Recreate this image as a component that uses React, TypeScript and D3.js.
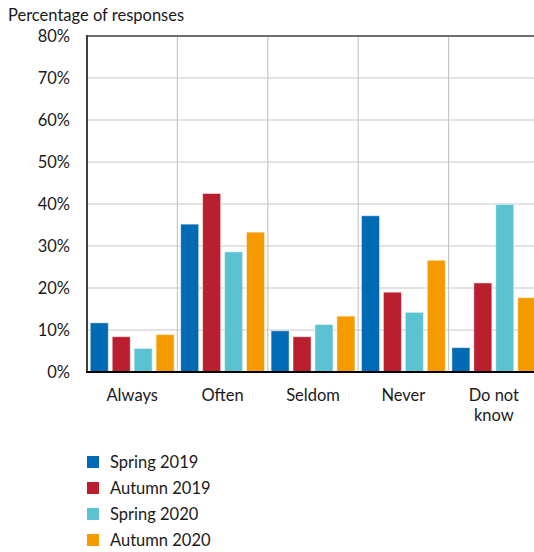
import React from 'react';
import * as d3 from 'd3';

const categories = ['Always', 'Often', 'Seldom', 'Never', 'Do not know'];
const seriesNames = ['Spring 2019', 'Autumn 2019', 'Spring 2020', 'Autumn 2020'];
const seriesColors = ['#006ab4', '#b91f2e', '#5bc2d1', '#f59b00'];
// values in percent, one array per series, same order as categories
const spring2019 = [11.7, 35.2, 9.8, 37.2, 5.8];
const autumn2019 = [8.4, 42.5, 8.4, 19.0, 21.2];
const spring2020 = [5.6, 28.6, 11.3, 14.2, 39.9];
const autumn2020 = [8.9, 33.3, 13.3, 26.6, 17.7];
const yTicks = [0, 10, 20, 30, 40, 50, 60, 70, 80];

const seriesValues = [spring2019, autumn2019, spring2020, autumn2020];

const W = 534;
const H = 552;
const left = 87;
const right = 539;
const top = 36;
const bottom = 372;
const font = 'Lato, "Open Sans", sans-serif';
const fs = 16.5;

export default function App() {
  const x = d3.scaleBand().domain(categories).range([left, right]).padding(0);
  const xs = d3
    .scaleBand()
    .domain(seriesNames)
    .range([0, x.bandwidth()])
    .paddingInner(0.18)
    .paddingOuter(0.15);
  const y = d3.scaleLinear().domain([0, 80]).range([bottom, top]);

  return (
    <svg
      width={W}
      height={H}
      style={{ position: 'absolute', left: 0, top: 0, background: '#fff' }}
      fontFamily={font}
    >
      <text x={8} y={21} fontSize={fs} fill="#1a1a1a">
        Percentage of responses
      </text>

      {/* horizontal gridlines */}
      {yTicks.slice(1, -1).map((t) => (
        <line key={t} x1={left} x2={right} y1={y(t)} y2={y(t)} stroke="#c8c8c8" strokeWidth={1.2} />
      ))}
      {/* vertical gridlines between categories */}
      {categories.slice(1).map((c) => (
        <line key={c} x1={x(c)} x2={x(c)} y1={top} y2={bottom} stroke="#c8c8c8" strokeWidth={1.2} />
      ))}

      {/* bars */}
      {categories.map((c, ci) =>
        seriesNames.map((s, si) => {
          const v = seriesValues[si][ci];
          return (
            <rect
              key={c + s}
              x={(x(c) as number) + (xs(s) as number)}
              y={y(v)}
              width={xs.bandwidth()}
              height={y(0) - y(v)}
              fill={seriesColors[si]}
              stroke="#ffffff"
              strokeOpacity={0.45}
              strokeWidth={1}
            />
          );
        })
      )}

      {/* frame */}
      <line x1={left} x2={right} y1={top} y2={top} stroke="#6e6e6e" strokeWidth={2} />
      <line x1={left} x2={left} y1={top - 1} y2={bottom} stroke="#404040" strokeWidth={2} />
      <line x1={left - 1} x2={right} y1={bottom} y2={bottom} stroke="#000" strokeWidth={2} />

      {/* y tick labels */}
      {yTicks.map((t) => (
        <text key={t} x={70} y={y(t)} dy="0.35em" textAnchor="end" fontSize={fs} fill="#1a1a1a">
          {t}%
        </text>
      ))}

      {/* category labels */}
      {categories.map((c) => {
        const words = c === 'Do not know' ? ['Do not', 'know'] : [c];
        const cx = (x(c) as number) + x.bandwidth() / 2;
        return (
          <text key={c} x={cx} y={401} textAnchor="middle" fontSize={fs} fill="#1a1a1a">
            {words.map((w, i) => (
              <tspan key={w} x={cx} dy={i === 0 ? 0 : 20}>
                {w}
              </tspan>
            ))}
          </text>
        );
      })}

      {/* legend */}
      {seriesNames.map((s, i) => (
        <g key={s} transform={`translate(87, ${456 + i * 26})`}>
          <rect width={12} height={12} fill={seriesColors[i]} />
          <text x={23} y={12} fontSize={fs} fill="#1a1a1a">
            {s}
          </text>
        </g>
      ))}
    </svg>
  );
}
